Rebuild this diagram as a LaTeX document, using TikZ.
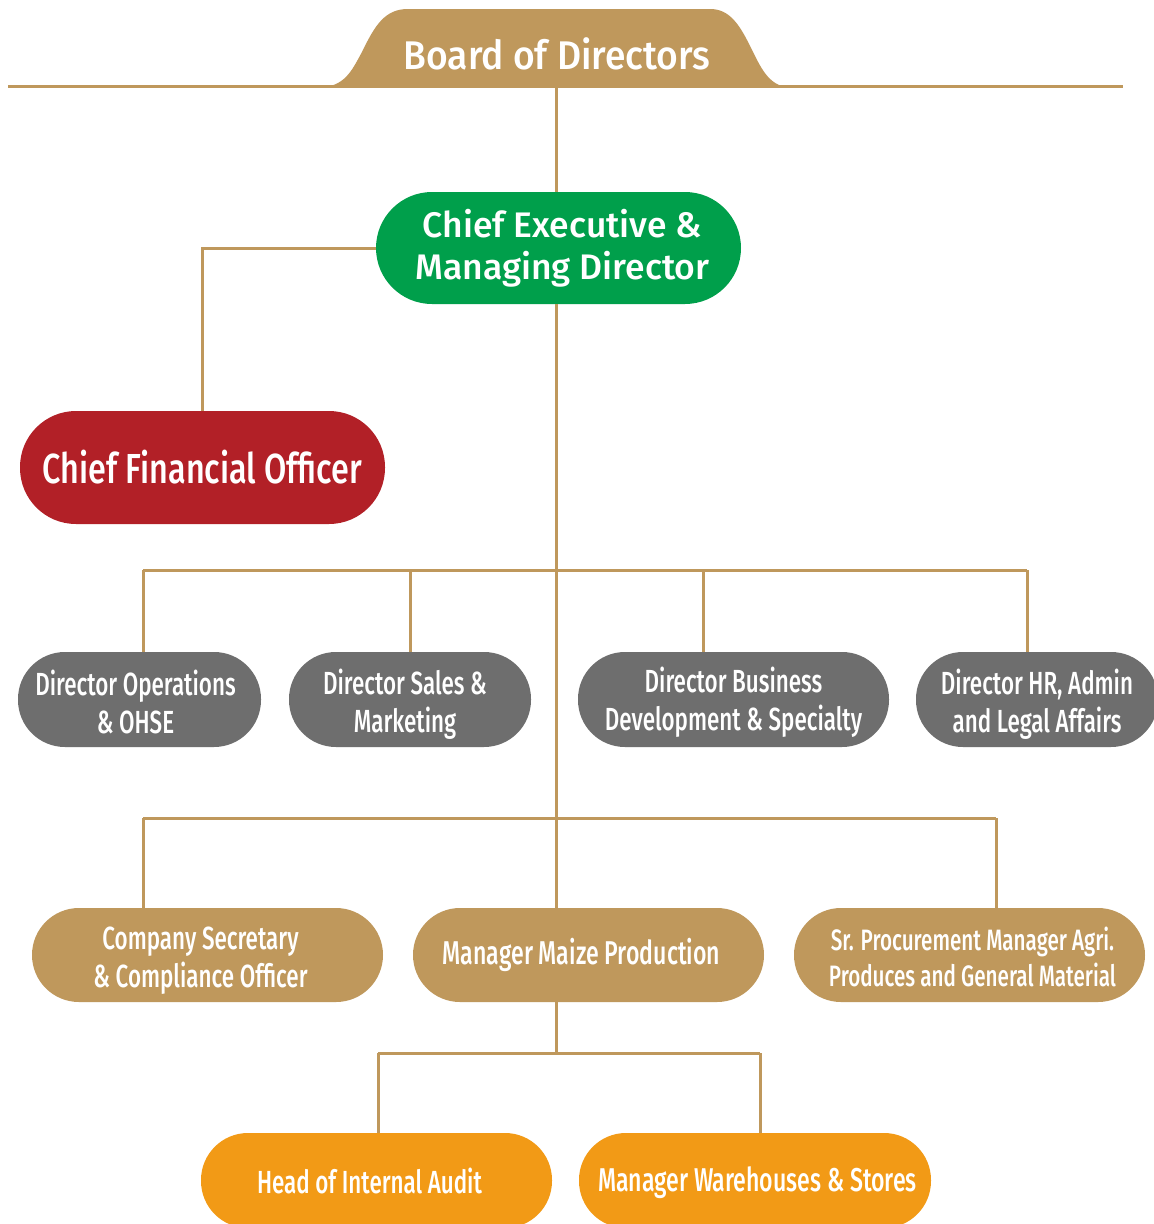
\documentclass[tikz,border=0pt]{standalone}
\usepackage{fontspec}
\setmainfont{Fira Sans}
\newfontfamily\cond{Fira Sans}[UprightFont=* Medium, FakeStretch=0.7]
\newfontfamily\condw{Fira Sans}[UprightFont=* Medium, FakeStretch=0.77]
\newfontfamily\boardf{Fira Sans}[UprightFont=* Medium, FakeStretch=0.93]
\newfontfamily\semi{Fira Sans}[UprightFont=* Medium]
\definecolor{gold}{RGB}{191,152,92}
\definecolor{ceogreen}{RGB}{0,159,75}
\definecolor{cfored}{RGB}{178,32,39}
\definecolor{dirgray}{RGB}{110,110,110}
\definecolor{orng}{RGB}{242,154,22}
\newcommand\twol[3]{\hspace*{#1}\raisebox{#2}[\height][\depth]{\begin{tabular}{@{}c@{}}#3\end{tabular}}}
\tikzset{
  link/.style={draw=gold, line width=3pt},
  pill/.style={inner sep=0pt, align=center, text=white, font=\cond\fontsize{32}{38}\selectfont},
  dirbox/.style={pill, fill=dirgray, minimum height=95pt, rounded corners=47pt},
  goldbox/.style={pill, fill=gold, minimum height=94pt, rounded corners=47pt},
  orbox/.style={pill, fill=orng, minimum height=95pt, rounded corners=47pt},
}
\begin{document}
\begin{tikzpicture}[x=1pt,y=-1pt]
\clip (0,0) rectangle (1154,1224);
\fill[white] (0,0) rectangle (1154,1224);
% board
\draw[link] (8,86) -- (1123,86);
\fill[gold] (318,87.5) .. controls (345,87.5) and (352,70) .. (362,52)
  .. controls (375,25) and (385,9) .. (408,9) -- (710,9)
  .. controls (730,9) and (740,25) .. (752,50)
  .. controls (762,70) and (770,87.5) .. (792,87.5) -- cycle;
\node[text=white, font=\boardf\fontsize{40}{44}\selectfont] (board) at (557,54) {Board of Directors};
% top nodes
\node[pill, fill=ceogreen, minimum width=365pt, minimum height=112pt, rounded corners=56pt,
  font=\semi\fontsize{35.5}{42}\selectfont] (ceo) at (558.5,248) {\hspace*{8pt}Chief Executive \&\\\hspace*{8pt}Managing Director};
\node[pill, fill=cfored, minimum width=365pt, minimum height=113pt, rounded corners=56pt,
  font=\condw\fontsize{42}{46}\selectfont] (cfo) at (202.5,467.5) {Chief Financial Officer};
% directors
\node[dirbox, minimum width=243pt] (ops) at (139.5,699.5) {\twol{-8pt}{-7pt}{Director Operations\\\& OHSE}};
\node[dirbox, minimum width=242pt] (sales) at (410,699.5) {\twol{-10pt}{-6.5pt}{Director Sales \&\\Marketing}};
\node[dirbox, minimum width=311pt] (bd) at (733.5,699.5) {\twol{0pt}{-4.5pt}{Director Business\\Development \& Specialty}};
\node[dirbox, minimum width=242pt] (hr) at (1037,699.5) {\twol{0pt}{-6.5pt}{Director HR, Admin\\and Legal Affairs}};
% managers
\node[goldbox, minimum width=351pt] (cs) at (207.5,955) {\twol{-14pt}{-6pt}{Company Secretary\\\& Compliance Officer}};
\node[goldbox, minimum width=351pt, font=\cond\fontsize{33}{38}\selectfont] (maize) at (588.5,955) {\hspace*{-14pt}Manager Maize Production};
\node[goldbox, minimum width=351pt, font=\cond\fontsize{29.5}{36}\selectfont] (proc) at (969.5,955) {\twol{6pt}{-6pt}{Sr. Procurement Manager Agri.\\Produces and General Material}};
\node[orbox, minimum width=351pt] (head) at (376.5,1180.5) {\hspace*{-14pt}Head of Internal Audit};
\node[orbox, minimum width=352pt, font=\cond\fontsize{33}{38}\selectfont] (ware) at (755,1180.5) {\hspace*{5pt}\raisebox{-2pt}[\height][\depth]{Manager Warehouses \& Stores}};
% coordinates
\coordinate (tr) at (556,86);
\coordinate (b1a) at (143,570);
\coordinate (b1b) at (410,570);
\coordinate (b1d) at (703,570);
\coordinate (b1e) at (1027,570);
\coordinate (b2a) at (143,818);
\coordinate (b2c) at (996,818);
\coordinate (b3a) at (378,1053);
\coordinate (b3b) at (556,1053);
\coordinate (b3c) at (760,1053);
% connectors
\draw[link] (tr) -- (tr |- ceo.north);
\draw[link] (ceo.west) -| (cfo.north);
\draw[link] (ceo.south -| tr) -- (maize.north -| tr);
\draw[link] (b1a) -- (b1e);
\draw[link] (b1a) -- (b1a |- ops.north);
\draw[link] (b1b) -- (b1b |- sales.north);
\draw[link] (b1d) -- (b1d |- bd.north);
\draw[link] (b1e) -- (b1e |- hr.north);
\draw[link] (b2a) -- (b2c);
\draw[link] (b2a) -- (b2a |- cs.north);
\draw[link] (b2c) -- (b2c |- proc.north);
\draw[link] (maize.south -| b3b) -- (b3b);
\draw[link] (b3a) -- (b3c);
\draw[link] (b3a) -- (b3a |- head.north);
\draw[link] (b3c) -- (b3c |- ware.north);
\end{tikzpicture}
\end{document}
